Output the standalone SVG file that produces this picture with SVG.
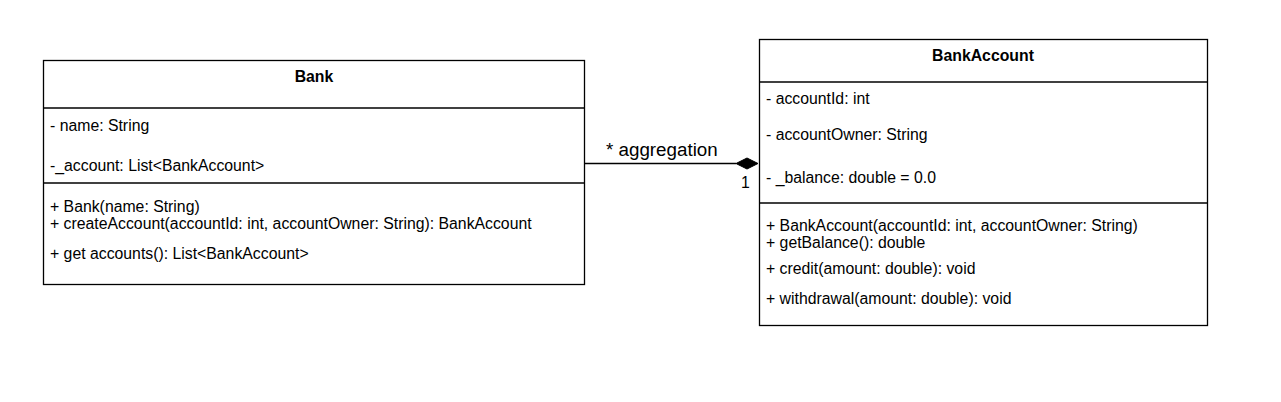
<svg xmlns="http://www.w3.org/2000/svg" width="1281" height="402" viewBox="0 0 1281 402">
<style>
.box{fill:#fff;stroke:#000;stroke-width:1.3}
.sep{stroke:#000;stroke-width:1.3}
text{font-family:"Liberation Sans",Arial,sans-serif;font-size:15.8px;fill:#000}
.title{font-weight:bold;text-anchor:middle}
.lbl{font-size:18.8px}
</style>
<rect width="1281" height="402" fill="#fff"/>
<g id="Bank">
<rect class="box" x="43.5" y="60.5" width="541" height="224"/>
<line class="sep" x1="43.5" y1="108" x2="584.5" y2="108"/>
<line class="sep" x1="43.5" y1="183" x2="584.5" y2="183"/>
<text class="title" x="314" y="82">Bank</text>
<text x="50" y="131">- name: String</text>
<text x="50" y="171">-_account: List&lt;BankAccount&gt;</text>
<text x="50" y="212">+ Bank(name: String)</text>
<text x="50" y="229">+ createAccount(accountId: int, accountOwner: String): BankAccount</text>
<text x="50" y="259">+ get accounts(): List&lt;BankAccount&gt;</text>
</g>
<g id="BankAccount">
<rect class="box" x="759.5" y="39.5" width="448" height="286"/>
<line class="sep" x1="759.5" y1="82" x2="1207.5" y2="82"/>
<line class="sep" x1="759.5" y1="203" x2="1207.5" y2="203"/>
<text class="title" x="983" y="61">BankAccount</text>
<text x="766" y="104">- accountId: int</text>
<text x="766" y="140">- accountOwner: String</text>
<text x="766" y="183">- _balance: double = 0.0</text>
<text x="766" y="231">+ BankAccount(accountId: int, accountOwner: String)</text>
<text x="766" y="248">+ getBalance(): double</text>
<text x="766" y="274">+ credit(amount: double): void</text>
<text x="766" y="304">+ withdrawal(amount: double): void</text>
</g>
<g id="connectors">
<line x1="584.5" y1="163.5" x2="736" y2="163.5" stroke="#000" stroke-width="1.3"/>
<polygon points="736,163.5 747,158 758,163.5 747,169" fill="#000" stroke="#000"/>
<text class="lbl" x="606" y="156">* aggregation</text>
<text x="741" y="188">1</text>
</g>
</svg>
